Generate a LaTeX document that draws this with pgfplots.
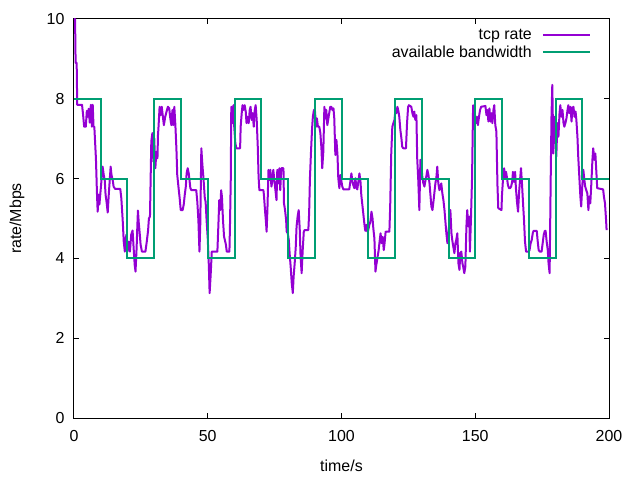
\documentclass[border=0pt]{standalone}
\usepackage{fontspec}
\setmainfont{Liberation Sans}
\usepackage{pgfplots}
\pgfplotsset{compat=1.18}
\definecolor{tcpc}{HTML}{9400D3}
\definecolor{bwcol}{HTML}{009E73}
\begin{document}
\begin{tikzpicture}[font=\fontsize{16}{19}\selectfont]
\begin{axis}[
  at={(0,0)}, anchor=south west,
  scale only axis, width=535bp, height=399bp,
  xmin=0, xmax=200, ymin=0, ymax=10,
  xtick={0,50,...,200}, ytick={0,2,...,10},
  /pgf/number format/assume math mode=true,
  tick align=inside, major tick length=5bp,
  axis line style={line width=1bp},
  every tick/.style={black, line width=1bp},
  xticklabel style={yshift=-9bp},
  yticklabel style={xshift=-6bp},
  xlabel={time/s}, ylabel={rate/Mbps},
  xlabel style={at={(axis description cs:0.5,-0.1203)}, anchor=center},
  ylabel style={at={(axis description cs:-0.1065,0.5)}, anchor=center},
  legend plot pos=right,
  legend cell align=right,
  legend image code/.code={\draw[#1] (0bp,0bp) -- (47bp,0bp);},
  legend style={at={(1,1)}, anchor=north east, xshift=-15bp, yshift=-6bp,
    draw=none, fill=none, row sep=1bp, column sep=8bp, font=\fontsize{16}{19}\selectfont},
]
\addplot[color=tcpc, line width=2bp, line join=round] coordinates {
(0,10.0) (0.4,10.0) (0.6,8.9) (1.0,8.9) (1.2,7.85) (3.0,7.85) (3.4,7.6) (3.8,7.3) (4.4,7.3) (4.8,7.7)
(5.2,7.55) (5.5,7.75) (5.9,7.4) (6.3,7.85) (6.7,7.3) (7.0,7.85) (7.3,7.3) (7.6,7.3) (8.2,6.5) (8.6,5.6)
(8.85,5.17) (9.2,5.6) (9.5,5.35) (10.2,5.9) (10.7,6.3) (11.1,6.1) (11.5,5.95) (11.8,5.6) (12.2,5.4) (12.6,5.15)
(13.0,5.6) (13.3,5.9) (13.7,6.3) (14.0,6.1) (14.5,5.95) (14.8,5.8) (15.4,5.74) (17.3,5.74) (17.7,5.5) (18.2,4.96)
(18.6,4.42) (19.0,4.17) (19.2,4.42) (19.6,4.6) (19.9,4.17) (20.4,4.42) (20.9,4.17) (21.4,4.6) (21.9,4.7) (22.3,4.25)
(22.7,3.83) (23.0,3.67) (23.4,4.25) (23.7,4.85) (23.9,5.2) (24.2,4.9) (24.6,4.6) (24.9,4.34) (25.4,4.17) (26.7,4.17)
(27.2,4.42) (27.7,4.7) (28.0,5.0) (28.4,5.05) (28.9,6.93) (29.3,7.14) (29.7,6.42) (30.0,7.01) (30.4,6.26) (30.8,6.67)
(31.2,6.51) (31.4,7.09) (31.6,7.30) (32.0,7.80) (32.4,7.59) (32.8,7.80) (33.3,7.51) (33.6,7.34) (34.1,7.55) (34.6,7.68)
(35.1,7.80) (35.6,7.76) (36.0,7.51) (36.4,7.34) (36.8,7.72) (37.1,7.34) (37.5,7.80) (37.9,7.34) (38.3,6.72) (38.6,6.09)
(39.1,5.76) (39.5,5.51) (39.9,5.21) (40.6,5.21) (41.0,5.34) (41.4,5.59) (41.8,5.80) (42.1,6.13) (42.5,6.26) (42.9,6.13)
(43.1,6.01) (43.5,5.76) (43.9,5.71) (45.7,5.71) (46.1,5.42) (46.5,4.96) (46.9,4.17) (47.2,4.84) (47.6,6.76) (48.0,6.34)
(48.4,6.01) (48.9,5.51) (49.2,5.42) (49.6,4.92) (50.0,4.50) (50.4,3.83) (50.7,3.13) (51.1,3.60) (51.5,4.17) (53.6,4.17)
(54.0,4.88) (54.3,5.46) (54.7,5.21) (55.0,5.71) (55.3,5.55) (55.7,4.96) (56.1,4.54) (56.4,4.46) (56.8,4.34) (57.1,4.17)
(58.1,4.17) (58.3,4.80) (58.6,5.96) (58.8,7.80) (59.2,7.39) (59.6,7.84) (59.9,7.30) (60.3,6.89) (60.7,6.76) (62.1,6.76)
(62.3,7.30) (62.7,7.64) (63.0,7.84) (63.4,7.72) (63.8,7.84) (64.2,7.68) (64.5,7.39) (64.9,7.55) (65.3,7.39) (65.7,7.72)
(66.0,7.80) (66.4,7.47) (66.8,7.64) (67.2,7.30) (67.5,7.68) (67.9,7.84) (68.3,7.47) (68.7,6.80) (69.0,6.05) (69.3,5.71)
(70.8,5.71) (71.0,5.59) (71.4,5.21) (71.8,4.88) (72.0,4.67) (72.3,5.21) (72.7,6.22) (73.0,5.96) (73.4,6.22) (73.8,5.80)
(74.2,5.96) (74.5,6.22) (74.9,5.96) (75.3,5.71) (75.7,5.46) (76.0,6.22) (76.4,5.88) (76.8,6.26) (77.1,5.71) (77.5,6.26)
(78.3,6.26) (78.5,5.38) (78.9,5.21) (79.3,4.96) (79.5,4.67) (79.9,4.63) (80.3,4.46) (80.6,4.13) (81.0,3.79) (81.4,3.38)
(81.8,3.13) (82.1,3.54) (82.5,3.88) (82.9,4.29) (83.2,4.80) (83.6,5.05) (84.0,5.21) (84.4,4.71) (84.7,4.04) (85.1,3.63)
(85.5,4.21) (85.9,4.67) (86.2,4.71) (87.6,4.71) (87.9,5.13) (88.2,6.01) (88.6,6.67) (89.0,7.26) (89.3,7.55) (89.7,7.72)
(90.1,7.68) (90.5,7.30) (90.8,7.51) (91.2,7.30) (91.7,7.30) (92.1,7.14) (92.5,6.76) (92.8,6.26) (93.2,6.67) (93.6,7.80)
(94.0,7.51) (94.3,7.72) (94.7,7.34) (95.1,7.51) (95.5,7.68) (95.8,7.80) (96.2,7.80) (96.6,7.72) (97.0,7.76) (97.3,7.51)
(97.7,6.59) (98.1,6.97) (98.5,6.59) (98.8,6.01) (99.2,5.76) (99.6,6.09) (100.0,5.92) (100.3,5.80) (100.7,5.73) (102.9,5.73)
(103.3,5.92) (103.7,6.13) (104.1,5.92) (104.4,5.84) (104.8,5.76) (105.2,6.01) (105.6,5.76) (105.9,5.73) (106.3,5.92) (106.7,6.13)
(107.1,5.92) (107.4,5.59) (107.8,5.34) (108.2,5.09) (108.6,4.84) (108.9,4.69) (109.3,4.84) (109.7,4.67) (110.0,4.71) (110.4,4.84)
(110.8,4.92) (111.2,5.17) (111.6,5.0) (111.9,4.75) (112.3,4.50) (112.7,3.67) (113.0,3.83) (113.4,4.0) (113.9,4.21) (114.3,4.46)
(114.6,4.63) (115.0,4.38) (115.4,4.54) (115.8,4.21) (116.1,4.38) (116.5,4.67) (117.9,4.67) (118.2,5.30) (118.6,6.63) (119.0,7.30)
(119.4,7.39) (119.8,7.47) (120.1,7.68) (120.5,7.64) (120.9,7.80) (121.3,7.68) (121.6,7.55) (122.0,7.22) (122.4,7.01) (122.7,6.80)
(123.1,6.76) (124.1,6.76) (124.5,7.39) (124.9,7.80) (125.2,7.84) (126.1,7.80) (126.5,7.64) (126.9,7.55) (127.2,7.68) (127.6,7.47)
(128.0,7.59) (128.3,6.51) (128.7,5.96) (129.1,5.21) (129.5,6.47) (129.9,6.30) (130.2,6.05) (130.6,5.88) (131.0,5.80) (131.4,5.96)
(131.7,6.05) (132.1,6.22) (132.5,6.09) (132.9,5.88) (133.2,5.63) (133.6,5.30) (134.0,5.21) (134.3,5.38) (134.7,5.63) (135.1,5.88)
(135.5,6.05) (135.8,6.30) (136.2,5.88) (136.6,5.71) (137.0,5.80) (137.3,5.88) (137.7,5.63) (138.1,5.46) (138.5,5.21) (138.8,4.96)
(139.2,4.63) (139.6,4.38) (139.9,4.54) (140.3,4.88) (140.7,5.21) (141.1,4.63) (141.4,4.46) (141.8,4.29) (142.2,4.13) (142.6,4.38)
(142.9,4.46) (143.3,4.63) (143.7,3.88) (144.1,3.71) (144.4,4.13) (144.8,4.17) (145.2,3.88) (145.5,3.79) (145.9,3.63) (146.3,3.79)
(146.7,4.80) (147.0,5.21) (147.4,4.80) (147.8,5.05) (148.0,4.17) (148.4,5.0) (148.8,6.01) (149.2,7.84) (149.5,7.26) (149.9,7.59)
(150.3,7.39) (150.7,7.55) (151.0,7.34) (151.4,7.55) (151.8,7.72) (152.2,7.80) (153.8,7.82) (154.2,7.59) (154.6,7.72) (154.9,7.43)
(155.3,7.76) (155.7,7.43) (156.0,7.64) (156.4,7.39) (156.8,7.72) (157.1,7.84) (157.5,7.34) (157.9,7.18) (158.3,5.84) (158.6,5.26)
(159.8,5.21) (160.0,5.59) (160.4,6.01) (160.8,6.26) (161.1,6.01) (161.5,6.17) (161.9,6.01) (162.2,5.84) (162.6,5.76) (163.0,5.76)
(163.4,5.80) (163.8,5.92) (164.1,6.17) (164.5,5.92) (164.9,6.17) (165.2,5.76) (165.6,5.42) (166.0,5.17) (166.4,5.67) (166.8,6.01)
(167.1,6.26) (167.5,5.84) (167.9,5.34) (168.2,5.0) (168.6,4.42) (169.0,4.17) (170.0,4.17) (170.3,4.21) (170.7,4.38) (171.1,4.46)
(171.5,4.63) (171.8,4.69) (173.0,4.69) (173.3,4.46) (173.7,4.21) (174.1,4.17) (174.8,4.17) (175.2,4.38) (175.6,4.59) (176.0,4.69)
(176.3,4.69) (176.7,4.42) (177.1,4.21) (177.4,3.88) (177.8,3.63) (178.2,5.96) (178.5,7.55) (178.8,8.35) (179.2,6.63) (179.6,7.55)
(180.0,7.39) (180.3,6.55) (180.7,7.39) (181.1,7.05) (181.5,7.64) (181.8,7.84) (182.2,7.55) (182.6,7.72) (183.0,7.39) (183.3,7.30)
(183.7,7.39) (184.1,7.51) (184.5,7.72) (184.8,7.84) (185.2,7.64) (185.6,7.80) (186.0,7.43) (186.3,7.76) (186.7,7.80) (187.1,7.55)
(187.5,7.68) (187.8,7.47) (188.2,7.05) (188.5,6.55) (188.9,6.05) (189.3,5.55) (189.6,5.30) (190.0,5.80) (190.4,6.22) (190.8,5.96)
(191.1,5.80) (191.5,5.71) (191.9,5.63) (192.3,5.21) (192.6,5.55) (193.0,5.38) (193.4,5.88) (193.8,6.47) (194.1,6.76) (194.5,6.47)
(194.9,6.63) (195.3,6.13) (195.6,5.76) (197.8,5.73) (198.1,5.55) (198.5,5.38) (198.9,4.96) (199.1,4.71)
};
\addlegendentry{tcp rate}
\addplot[color=bwcol, line width=2bp, line join=miter] coordinates {
(0,8) (10,8) (10,6) (20,6) (20,4) (30,4) (30,8) (40,8) (40,6) (50,6) (50,4) (60,4) (60,8) (70,8) (70,6) (80,6) (80,4) (90,4) (90,8) (100,8)
(100,6) (110,6) (110,4) (120,4) (120,8) (130,8) (130,6) (140,6) (140,4) (150,4) (150,8) (160,8) (160,6) (170,6) (170,4) (180,4) (180,8) (190,8) (190,6) (200,6)
};
\addlegendentry{available bandwidth}
\node[black!22, anchor=center] at (axis description cs:0.8206,-0.1103) {https://blog.csdn.net/u010643777};
\end{axis}
\pgfresetboundingbox
\path[use as bounding box] ([shift={(-74bp,-62bp)}]current axis.south west) rectangle ([shift={(31bp,19bp)}]current axis.north east);
\end{tikzpicture}
\end{document}
